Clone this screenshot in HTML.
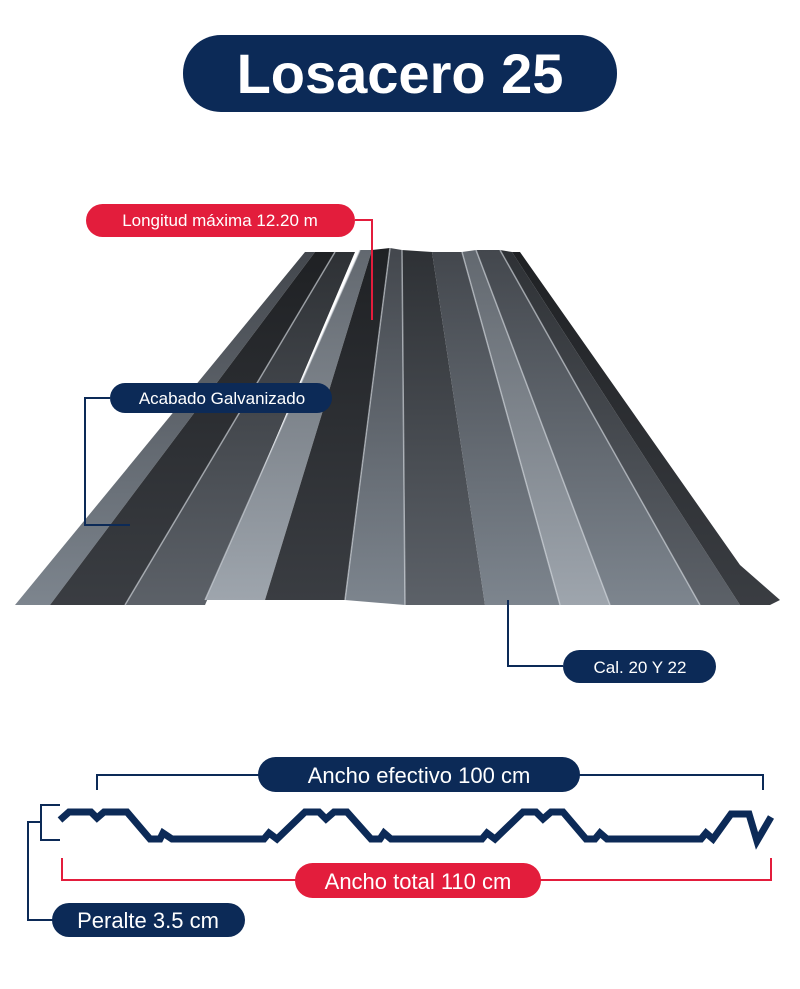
<!DOCTYPE html>
<html><head><meta charset="utf-8"><style>
html,body{margin:0;padding:0;background:#fff;}
svg{display:block;}
text{font-family:"Liberation Sans",sans-serif;}
</style></head><body>
<svg width="800" height="989" viewBox="0 0 800 989" xmlns="http://www.w3.org/2000/svg">
<defs>
<linearGradient id="g1" x1="0" y1="0" x2="0" y2="1"><stop offset="0" stop-color="#2e3135"/><stop offset="1" stop-color="#5c6168"/></linearGradient>
<linearGradient id="g2" x1="0" y1="0" x2="0" y2="1"><stop offset="0" stop-color="#1f2124"/><stop offset="1" stop-color="#3a3d42"/></linearGradient>
<linearGradient id="g3" x1="0" y1="0" x2="0" y2="1"><stop offset="0" stop-color="#62686f"/><stop offset="1" stop-color="#9ea5ad"/></linearGradient>
<linearGradient id="g4" x1="0" y1="0" x2="0" y2="1"><stop offset="0" stop-color="#43474d"/><stop offset="1" stop-color="#7d858e"/></linearGradient>
</defs>
<!-- title -->
<rect x="183" y="35" width="434" height="77" rx="38" fill="#0c2a57"/>
<text x="400" y="93" font-size="56" font-weight="bold" fill="#fff" text-anchor="middle">Losacero 25</text>

<!-- sheet strips -->
<g>
<polygon points="15,605 50,605 315,252 305,252" fill="url(#g4)"/>
<polygon points="50,605 125,605 335,252 315,252" fill="url(#g2)"/>
<polygon points="125,605 205,605 355,252 335,252" fill="url(#g1)"/>
<polygon points="205,600 265,600 372,250 360,250" fill="url(#g3)"/>
<polygon points="265,600 345,600 390,248 372,250" fill="url(#g2)"/>
<polygon points="345,600 405,605 402,250 390,248" fill="url(#g4)"/>
<polygon points="405,605 485,605 432,252 402,250" fill="url(#g1)"/>
<polygon points="485,605 560,605 462,252 432,252" fill="url(#g4)"/>
<polygon points="560,605 610,605 476,250 462,252" fill="url(#g3)"/>
<polygon points="610,605 700,605 500,250 476,250" fill="url(#g4)"/>
<polygon points="700,605 740,605 512,252 500,250" fill="url(#g1)"/>
<polygon points="740,605 770,605 780,600 740,565 520,252 512,252" fill="url(#g2)"/>
</g>
<g stroke="#d7dce2" stroke-width="1.5" opacity="0.6">
<line x1="125" y1="605" x2="335" y2="252"/><line x1="205" y1="600" x2="360" y2="250"/>
<line x1="345" y1="600" x2="390" y2="248"/><line x1="405" y1="605" x2="402" y2="250"/>
<line x1="560" y1="605" x2="462" y2="252"/><line x1="610" y1="605" x2="476" y2="250"/>
<line x1="700" y1="605" x2="500" y2="250"/>
</g>

<!-- callouts -->
<polyline points="355,220 372,220 372,320" fill="none" stroke="#e31d3c" stroke-width="2"/>
<rect x="86" y="204" width="269" height="33" rx="16.5" fill="#e31d3c"/>
<text x="220" y="226" font-size="17" fill="#fff" text-anchor="middle">Longitud máxima 12.20 m</text>

<polyline points="110,398 85,398 85,525 130,525" fill="none" stroke="#0c2a57" stroke-width="2"/>
<rect x="110" y="383" width="222" height="30" rx="15" fill="#0c2a57"/>
<text x="222" y="404" font-size="17" fill="#fff" text-anchor="middle">Acabado Galvanizado</text>

<polyline points="508,600 508,666 563,666" fill="none" stroke="#0c2a57" stroke-width="2"/>
<rect x="563" y="650" width="153" height="33" rx="16.5" fill="#0c2a57"/>
<text x="640" y="673" font-size="17" fill="#fff" text-anchor="middle">Cal. 20 Y 22</text>

<!-- profile -->
<polyline points="97,790 97,775 763,775 763,790" fill="none" stroke="#0c2a57" stroke-width="2"/>
<rect x="258" y="757" width="322" height="35" rx="17.5" fill="#0c2a57"/>
<text x="419" y="783" font-size="22" fill="#fff" text-anchor="middle">Ancho efectivo 100 cm</text>

<polyline points="60,820 69,812 91,812 97,818 104,812 127,812 150,839 160,839 163,833 172,839 264,839 269,833 277,839 305,812 319,812 326,819 334,812 347,812 371,839 380,839 384,833 391,839 482,839 487,833 495,839 523,812 536,812 543,819 551,812 563,812 586,839 595,839 600,833 607,839 701,839 706,833 713,839 731,814 749,814 757,841 771,817" fill="none" stroke="#0c2a57" stroke-width="7" stroke-linejoin="miter"/>

<polyline points="62,858 62,880 771,880 771,858" fill="none" stroke="#e31d3c" stroke-width="2"/>
<rect x="295" y="863" width="246" height="35" rx="17.5" fill="#e31d3c"/>
<text x="418" y="889" font-size="22" fill="#fff" text-anchor="middle">Ancho total 110 cm</text>

<polyline points="60,805 41,805 41,840 60,840" fill="none" stroke="#0c2a57" stroke-width="2"/>
<polyline points="41,822 28,822 28,920 55,920" fill="none" stroke="#0c2a57" stroke-width="2"/>
<rect x="52" y="903" width="193" height="34" rx="17" fill="#0c2a57"/>
<text x="148" y="928" font-size="22" fill="#fff" text-anchor="middle">Peralte 3.5 cm</text>
</svg>
</body></html>
